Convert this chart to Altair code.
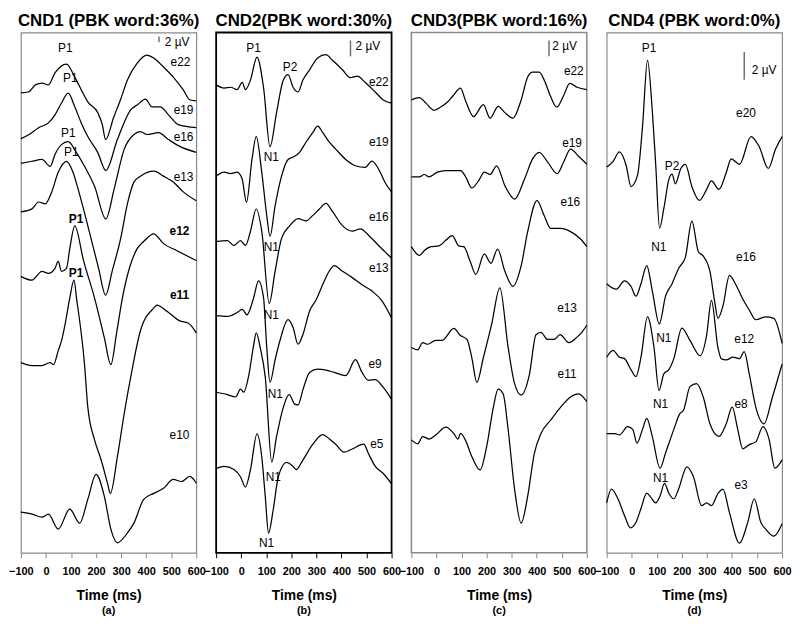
import altair as alt
import pandas as pd

FONT = "Liberation Sans"
TICKS = [-100, 0, 100, 200, 300, 400, 500, 600]
PANEL_W = 177
PANEL_H = 525

# ---------------- Panel (a) CND1 ----------------
A_NAMES = ["e22", "e19", "e16", "e13", "e12", "e11", "e10"]
A_OFFSETS = [154.7, 139.3, 131.0, 114.7, 93.0, 64.0, 13.7]
A_YMAX = 175.0
A_E22_T = [-100, -70, -42, -16, 10, 36, 82, 115, 141, 167, 207, 225, 238, 270, 300, 325, 364, 403, 430, 469, 508, 548, 574, 600]
A_E22_V = [0, 0.3, 2.7, 3.3, 2.7, 6.7, 9.7, 5.3, 1.0, -3.0, -6.7, -10.7, -15.7, -8.3, -1.7, 4.3, 10.0, 12.7, 11.7, 8.7, 5.3, 1.0, -2.3, -2.7]
A_E19_T = [-100, -69, -29, 10, 36, 62, 89, 115, 141, 167, 207, 239, 285, 338, 364, 397, 423, 456, 489, 528, 600]
A_E19_V = [0, 1.3, 3.7, 5.3, 8.0, 12.0, 15.3, 10.7, 5.3, 0.7, -4.7, -10.7, -0.3, 9.7, 11.3, 13.3, 10.7, 10.7, 8.0, 4.7, 3.7]
A_E16_T = [-100, -56, -16, 17, 36, 62, 89, 121, 154, 194, 239, 272, 312, 351, 377, 403, 449, 489, 534, 600]
A_E16_V = [0, 0.7, 1.3, -1.0, 3.0, 6.3, 7.3, 3.7, -1.0, -7.7, -18.7, -8.7, 4.7, 9.7, 10.7, 9.7, 10.3, 8.0, 5.7, 3.7]
A_E13_T = [-100, -56, -29, -3, 23, 49, 82, 108, 128, 155, 180, 210, 238, 265, 298, 325, 351, 377, 431, 469, 508, 548, 600]
A_E13_V = [0, 1.0, 3.3, 2.7, 6.7, 13.3, 17.0, 13.3, 7.7, -0.7, -9.0, -19.0, -28.0, -19.7, -9.0, 2.7, 10.0, 12.0, 13.7, 12.0, 10.0, 6.7, 3.7]
A_E12_T = [-100, -56, -16, 10, 36, 49, 62, 82, 95, 115, 150, 194, 233, 259, 282, 305, 335, 364, 390, 430, 469, 521, 600]
A_E12_V = [0, -1.3, 1.7, 1.0, 2.7, 5.0, 1.7, 2.7, 9.3, 17.0, 5.3, -7.3, -20.7, -29.7, -19.0, -7.3, 3.3, 9.3, 11.7, 14.3, 11.0, 8.7, 5.3]
A_E11_T = [-100, -56, -16, 17, 30, 49, 62, 76, 95, 112, 122, 154, 167, 194, 220, 246, 257, 285, 312, 338, 377, 430, 443, 482, 534, 567, 600]
A_E11_V = [0, -1.0, -1.0, 0, -0.7, 4.0, 7.3, 12.7, 21.7, 27.7, 21.7, -0.7, -15.0, -26.0, -32.7, -40.7, -44.0, -31.7, -17.3, -5.0, 10.7, 18.3, 19.3, 17.3, 14.0, 13.3, 10.0]
A_E10_T = [-100, -55, -16, 10, 49, 95, 135, 167, 200, 233, 259, 285, 325, 351, 390, 430, 469, 508, 541, 574, 600]
A_E10_V = [0, -0.7, -1.7, -0.7, -5.7, 1.0, -3.7, 4.3, 12.7, 5.3, -5.7, -10.3, -7.0, -3.7, 4.3, 6.3, 8.0, 11.0, 10.3, 12.0, 9.7]
A_LAB_TEXT = ["e22", "e19", "e16", "e13", "e10", "P1", "P1", "P1", "P1"]
A_LAB_T = [537, 549, 549, 549, 533, 77, 97, 89, 101]
A_LAB_V = [165, 149, 140, 126.3, 39.7, 169.7, 159.7, 141.3, 134.7]
A_BOLD_TEXT = ["e12", "e11", "P1", "P1"]
A_BOLD_T = [533, 533, 120, 120]
A_BOLD_V = [108.3, 86.7, 112.3, 94]
A_BAR = [451, 171.7, 173.7]      # time, bottom µV, top µV (2 µV)
A_BAR_TEXT = [474, 171.7]

# ---------------- Panel (b) CND2 ----------------
B_NAMES = ["e22", "e19", "e16", "e13", "e9", "e5"]
B_OFFSETS = [59.0, 47.5, 39.25, 29.9, 20.25, 10.6]
B_YMAX = 65.6
B_E22_T = [-100, -68, -42, -16, 4, 17, 37, 63, 89, 115, 141, 168, 187, 207, 227, 246, 273, 305, 338, 364, 404, 436, 463, 495, 535, 567, 600]
B_E22_V = [0, -0.4, -0.3, -0.6, 0.3, -0.6, 0.6, 3.5, -0.3, -7.8, -3.5, 0.6, 1.3, -0.3, -0.9, 0.6, 1.9, 3.4, 3.8, 3.1, 1.9, 0.9, 1.1, 0.3, -0.9, -1.9, -2.3]
B_E19_T = [-100, -68, -42, -16, 4, 21, 43, 60, 82, 102, 115, 135, 161, 187, 207, 233, 259, 286, 305, 325, 351, 377, 417, 456, 495, 522, 548, 574, 600]
B_E19_V = [0, 0.5, 0.3, 0.5, -0.4, -3.3, 2.1, 5.0, 0.5, -5.0, -7.6, -3.8, 0, 2.1, 2.4, 3.0, 4.3, 5.5, 6.3, 5.5, 4.3, 3.4, 2.1, 1.3, 1.1, 1.9, 0.9, -0.8, -2.0]
B_E16_T = [-100, -55, -29, -3, 17, 37, 60, 82, 112, 135, 161, 194, 227, 259, 286, 312, 338, 364, 404, 443, 476, 508, 548, 574, 600]
B_E16_V = [0, 0.1, -0.5, 0.1, -0.5, 1.3, 4.1, 1.3, -7.8, -3.8, 0.4, 2.0, 2.9, 2.6, 3.3, 4.1, 4.8, 3.8, 2.0, 1.3, 1.6, 0.8, -0.5, -1.3, -2.1]
B_E13_T = [-100, -55, -16, 4, 23, 50, 69, 89, 102, 115, 135, 155, 187, 207, 227, 246, 273, 299, 325, 351, 371, 404, 443, 482, 522, 561, 600]
B_E13_V = [0, -0.1, 0.4, 0.8, 0.1, 2.3, 4.4, 2.3, -4.0, -8.4, -5.6, -3.1, -0.5, -1.5, -3.6, -2.4, 0.6, 2.0, 3.9, 5.6, 6.3, 5.6, 4.8, 3.9, 3.1, 1.9, -0.3]
B_E9_T = [-100, -55, -22, -3, 10, 30, 50, 60, 76, 96, 122, 141, 168, 191, 214, 227, 246, 273, 305, 338, 371, 417, 456, 482, 508, 535, 567, 600]
B_E9_V = [0, -0.3, -0.6, 0.4, 0, 2.1, 6.0, 7.5, 5.6, 1.9, -8.8, -5.6, -1.9, -0.3, -1.5, -1.6, 0.3, 2.5, 2.9, 2.8, 2.5, 2.1, 4.1, 2.5, 1.5, 1.6, 0.6, -0.9]
B_E5_T = [-100, -68, -29, -3, 17, 37, 63, 82, 96, 109, 128, 148, 181, 207, 220, 246, 286, 325, 351, 377, 410, 443, 489, 508, 535, 567, 600]
B_E5_V = [0, 0.3, -0.1, -1.0, -2.3, -0.1, 4.4, 1.5, -3.5, -8.1, -5.1, -1.0, 0.8, 0.3, -0.1, 1.1, 3.1, 4.3, 3.8, 3.1, 2.1, 2.5, 3.1, 1.9, 0.3, -0.6, -1.9]
B_LAB_TEXT = ["P1", "P2", "e22", "e19", "e16", "e13", "e9", "e5", "N1", "N1", "N1", "N1", "N1", "N1"]
B_LAB_T = [49, 195, 549, 549, 549, 549, 534, 541, 120, 120, 120, 136, 128, 101]
B_LAB_V = [63.6, 61.25, 59.4, 51.75, 42.4, 35.9, 23.75, 13.75, 49.9, 38.6, 30.0, 20.0, 9.6, 1.25]
B_BAR = [436, 62.6, 64.6]
B_BAR_TEXT = [456, 63.9]

# ---------------- Panel (c) CND3 ----------------
C_NAMES = ["e22", "e19", "e16", "e13", "e11"]
C_OFFSETS = [57.1, 47.4, 38.6, 25.9, 14.25]
C_YMAX = 65.6
C_E22_T = [-100, -68, -42, -9, 17, 43, 63, 96, 115, 148, 187, 214, 246, 273, 305, 338, 364, 384, 410, 430, 456, 480, 508, 532, 561, 600]
C_E22_V = [0, 0.3, -0.4, -1.3, -0.9, -0.3, 0.4, 1.5, 0, -2.1, -0.6, -2.3, -0.8, -1.6, -2.3, 0, 2.9, 3.5, 3.5, 2.5, 0.4, -0.9, 0.6, 2.1, 1.6, 1.3]
C_E19_T = [-100, -68, -49, -29, 4, 37, 96, 115, 141, 168, 191, 214, 240, 273, 312, 351, 384, 410, 443, 482, 508, 535, 567, 600]
C_E19_V = [0, 0, 0.3, 0, 0.6, 0.8, 0.8, 0.1, -1.4, -0.5, 0.6, 0.3, 1.4, -1.1, -2.8, -0.3, 2.3, 3.1, 1.9, 0.4, 1.9, 3.5, 2.6, 1.6]
C_E16_T = [-100, -68, -49, -22, 10, 37, 63, 89, 109, 135, 157, 191, 217, 244, 273, 305, 338, 364, 401, 430, 456, 495, 535, 574, 600]
C_E16_V = [0, -1.1, -0.5, 0, 0.1, 0.8, 1.4, 0.1, 0, -1.9, -3.5, -0.9, -2.1, -0.3, -3.1, -5.0, -2.4, 1.9, 5.8, 3.9, 2.3, 2.3, 1.9, 1.0, 0]
C_E13_T = [-100, -75, -55, -35, -3, 23, 69, 96, 122, 141, 161, 187, 220, 253, 286, 312, 338, 371, 397, 417, 443, 469, 493, 528, 561, 580, 600]
C_E13_V = [0, -0.3, 0.6, 0.4, 0.9, 0.9, 2.4, 1.5, 1.0, -1.3, -4.4, -1.3, 2.9, 7.5, 0, -4.6, -6.0, -3.4, 1.6, 1.9, 1.0, 1.0, 1.6, 0.6, 1.3, 1.9, 2.8]
C_E11_T = [-100, -75, -55, -29, -3, 37, 69, 86, 96, 115, 141, 174, 200, 227, 246, 266, 286, 312, 338, 364, 390, 417, 456, 495, 535, 567, 600]
C_E11_V = [0, -0.5, 0.4, 0.1, 0.6, 1.6, 0.8, 0.1, 0.8, 0, -2.1, -3.8, -0.9, 4.1, 6.4, 5.8, 1.3, -6.3, -10.5, -7.1, -1.8, 0.8, 2.5, 4.1, 5.4, 5.8, 4.8]
C_LAB_TEXT = ["e22", "e19", "e16", "e13", "e11"]
C_LAB_T = [548, 541, 534, 521, 521]
C_LAB_V = [60.7, 51.7, 44.2, 30.9, 22.5]
C_BAR = [449, 62.6, 64.6]
C_BAR_TEXT = [462, 63.9]

# ---------------- Panel (d) CND4 ----------------
D_NAMES = ["e20", "e16", "e12", "e8", "e3"]
D_OFFSETS = [27.8, 19.4, 14.1, 8.6, 3.6]
D_YMAX = 37.5
D_E20_T = [-100, -75, -49, -22, -3, 23, 43, 63, 82, 96, 111, 128, 148, 161, 174, 196, 214, 240, 270, 299, 318, 348, 377, 397, 430, 476, 508, 545, 574, 600]
D_E20_V = [0, 0.4, 1.1, 0.1, -1.4, -0.6, 2.9, 7.7, 4.1, 0.1, -4.4, -3.0, -0.9, -0.5, -1.2, -0.1, 0.2, -1.4, -2.4, -1.6, -1.0, -1.6, -0.4, 0.6, 0.2, 2.2, 1.5, -0.1, 1.3, 2.2]
D_E16_T = [-100, -62, -29, -3, 17, 37, 60, 82, 110, 135, 161, 187, 214, 240, 266, 285, 312, 331, 344, 364, 390, 416, 443, 469, 495, 534, 567, 600]
D_E16_V = [0, -0.4, 0.2, -0.2, -0.9, 0, 1.3, -0.5, -2.9, -0.9, 0, 1.1, 1.9, 4.5, 2.3, 2.0, 0.9, -1.3, -2.5, -1.6, 0.6, -0.1, -1.1, -1.9, -2.6, -2.4, -2.5, -4.3]
D_E12_T = [-100, -75, -49, -29, -3, 17, 37, 63, 89, 109, 128, 148, 168, 200, 233, 273, 299, 318, 344, 357, 377, 404, 430, 449, 469, 495, 528, 561, 600]
D_E12_V = [0, 0.5, 0, -0.1, -0.9, -1.4, 0, 2.9, 0.7, -2.4, -1.2, -0.9, -0.1, 2.1, 1.2, 0.1, 1.6, 4.1, 0.7, -0.1, -0.2, 0, -0.1, 0.4, -1.2, -3.6, -4.8, -2.9, -0.5]
D_E8_T = [-100, -68, -49, -16, 4, 21, 43, 60, 82, 113, 135, 168, 191, 207, 233, 259, 286, 312, 348, 377, 401, 423, 443, 469, 495, 524, 548, 571, 600]
D_E8_V = [0, 0, -0.1, 0.5, 0.3, -0.7, 0.3, 1.1, -0.2, -2.5, -1.4, 0.3, 1.4, 1.7, 3.4, 3.6, 2.6, 0.7, -0.2, 0.7, 1.9, 0.3, -1.1, -0.8, -0.6, 0.5, -0.4, -2.5, -1.9]
D_E3_T = [-100, -81, -55, -29, -5, 17, 37, 60, 76, 96, 113, 131, 148, 168, 187, 220, 246, 279, 299, 318, 345, 364, 390, 430, 463, 489, 515, 535, 567, 600]
D_E3_V = [0, 1.0, 0.3, -0.9, -1.8, -1.4, -0.4, 0.7, 0.4, 0, 0.5, 1.4, 0.7, 0.3, 1.0, 2.6, 1.9, -0.2, 0, -0.2, 0.7, 1.0, -0.7, -2.9, -1.4, 0.3, -1.4, -1.9, -2.4, -1.5]
D_LAB_TEXT = ["P1", "P2", "N1", "N1", "N1", "N1", "e20", "e16", "e12", "e8", "e3"]
D_LAB_T = [69, 161, 108, 128, 115, 115, 456, 456, 449, 436, 436]
D_LAB_V = [36.4, 27.9, 22.05, 15.5, 10.7, 5.4, 31.7, 21.3, 15.4, 10.7, 4.9]
D_BAR = [449, 34.1, 36.1]
D_BAR_TEXT = [479, 34.8]


def traces_df(names, ts, vs, offsets):
    rows = []
    for name, t_list, v_list, off in zip(names, ts, vs, offsets):
        n = min(len(t_list), len(v_list))
        for i in range(n):
            rows.append({"trace": name, "t": t_list[i], "v": round(off + v_list[i], 3)})
    return pd.DataFrame(rows)


def make_panel(title, letter, names, ts, vs, offsets, ymax, lab_text, lab_t, lab_v,
               bold_text, bold_t, bold_v, bar, bar_text, frame_color, frame_width, tick_color):
    xs = alt.Scale(domain=[-100, 600], nice=False, zero=False)
    ys = alt.Scale(domain=[0, ymax], nice=False, zero=False)
    x_axis = alt.Axis(values=TICKS, title="Time (ms)", titleFont=FONT, titleFontSize=14,
                      titleFontWeight="bold", titleColor="black", titlePadding=12,
                      labelFont=FONT, labelFontSize=11, labelFontWeight="bold",
                      labelColor="black", labelPadding=8, labelOverlap=False,
                      labelFlush=False, tickColor=tick_color, tickSize=5, tickWidth=1,
                      domain=False, grid=False)
    X = alt.X("t:Q", scale=xs, axis=x_axis)

    def Y(field="v"):
        return alt.Y(f"{field}:Q", scale=ys, axis=None)

    lines = alt.Chart(traces_df(names, ts, vs, offsets)).mark_line(
        color="black", strokeWidth=1.25, interpolate="monotone"
    ).encode(x=X, y=Y(), detail="trace:N")

    layers = [lines]

    bar_df = pd.DataFrame({"t": [bar[0]], "v": [bar[1]], "v2": [bar[2]]})
    layers.append(alt.Chart(bar_df).mark_rule(color="#707070", strokeWidth=1.5).encode(
        x=X, y=Y(), y2="v2:Q"))
    bt_df = pd.DataFrame({"t": [bar_text[0]], "v": [bar_text[1]], "txt": ["2 \u00b5V"]})
    layers.append(alt.Chart(bt_df).mark_text(font=FONT, fontSize=12, align="left",
                                              baseline="middle", color="black").encode(
        x=X, y=Y(), text="txt:N"))

    lab_df = pd.DataFrame({"t": lab_t, "v": lab_v, "txt": lab_text})
    layers.append(alt.Chart(lab_df).mark_text(font=FONT, fontSize=12, align="center",
                                               baseline="middle", color="black").encode(
        x=X, y=Y(), text="txt:N"))
    if bold_text:
        bold_df = pd.DataFrame({"t": bold_t, "v": bold_v, "txt": bold_text})
        layers.append(alt.Chart(bold_df).mark_text(font=FONT, fontSize=12, fontWeight="bold",
                                                    align="center", baseline="middle",
                                                    color="black").encode(
            x=X, y=Y(), text="txt:N"))

    let_df = pd.DataFrame({"txt": [letter]})
    layers.append(alt.Chart(let_df).mark_text(font=FONT, fontSize=11, fontWeight="bold",
                                               align="center", baseline="middle",
                                               color="black").encode(
        text="txt:N", x=alt.value(PANEL_W / 2), y=alt.value(PANEL_H + 59)))

    return alt.layer(*layers).properties(
        width=PANEL_W, height=PANEL_H,
        title=alt.TitleParams(text=title, font=FONT, fontSize=17, fontWeight="bold",
                              color="black", anchor="middle", offset=3),
        view=alt.ViewBackground(stroke=frame_color, strokeWidth=frame_width),
    )


pa = make_panel("CND1 (PBK word:36%)", "(a)", A_NAMES,
                [A_E22_T, A_E19_T, A_E16_T, A_E13_T, A_E12_T, A_E11_T, A_E10_T],
                [A_E22_V, A_E19_V, A_E16_V, A_E13_V, A_E12_V, A_E11_V, A_E10_V],
                A_OFFSETS, A_YMAX, A_LAB_TEXT, A_LAB_T, A_LAB_V,
                A_BOLD_TEXT, A_BOLD_T, A_BOLD_V, A_BAR, A_BAR_TEXT, "#8a8a8a", 1.2, "#8a8a8a")
pb = make_panel("CND2(PBK word:30%)", "(b)", B_NAMES,
                [B_E22_T, B_E19_T, B_E16_T, B_E13_T, B_E9_T, B_E5_T],
                [B_E22_V, B_E19_V, B_E16_V, B_E13_V, B_E9_V, B_E5_V],
                B_OFFSETS, B_YMAX, B_LAB_TEXT, B_LAB_T, B_LAB_V,
                [], [], [], B_BAR, B_BAR_TEXT, "#000000", 1.8, "#000000")
pc = make_panel("CND3(PBK word:16%)", "(c)", C_NAMES,
                [C_E22_T, C_E19_T, C_E16_T, C_E13_T, C_E11_T],
                [C_E22_V, C_E19_V, C_E16_V, C_E13_V, C_E11_V],
                C_OFFSETS, C_YMAX, C_LAB_TEXT, C_LAB_T, C_LAB_V,
                [], [], [], C_BAR, C_BAR_TEXT, "#8a8a8a", 1.5, "#8a8a8a")
pd_ = make_panel("CND4 (PBK word:0%)", "(d)", D_NAMES,
                 [D_E20_T, D_E16_T, D_E12_T, D_E8_T, D_E3_T],
                 [D_E20_V, D_E16_V, D_E12_V, D_E8_V, D_E3_V],
                 D_OFFSETS, D_YMAX, D_LAB_TEXT, D_LAB_T, D_LAB_V,
                 [], [], [], D_BAR, D_BAR_TEXT, "#8a8a8a", 1.2, "#8a8a8a")

chart = alt.hconcat(pa, pb, pc, pd_, spacing=20, bounds="flush").properties(
    padding={"left": 0, "top": 0, "right": 0, "bottom": 0}
).configure(font=FONT, background="white")

chart.save("out.html", embed_options={"renderer": "svg", "actions": False})
